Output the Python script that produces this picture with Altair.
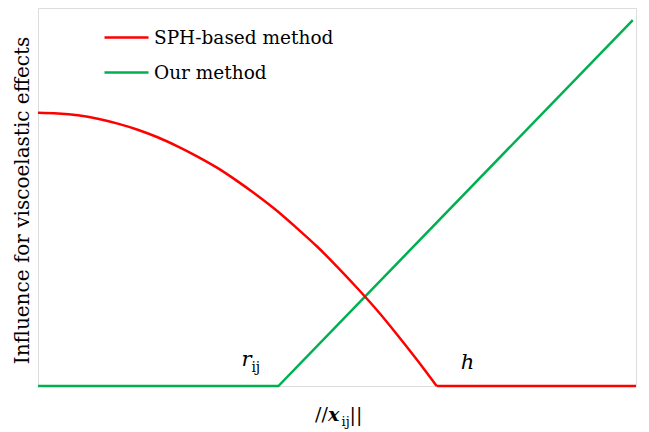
import altair as alt
import pandas as pd

# ---- data ----
sph_x = [0.0, 0.05, 0.1, 0.15, 0.2, 0.25, 0.3, 0.35, 0.4, 0.45, 0.5, 0.55,
         0.6, 0.65, 0.7, 0.75, 0.8, 0.85, 0.9, 0.95, 1.0]
sph_y = [0.723, 0.721, 0.716, 0.707, 0.694, 0.678, 0.658, 0.634, 0.607, 0.577,
         0.542, 0.504, 0.463, 0.417, 0.369, 0.316, 0.260, 0.201, 0.137, 0.070,
         0.0]
sph_tail_x = [1.0, 1.5]
sph_tail_y = [0.0, 0.0]
our_x = [0.0, 0.603, 1.492]
our_y = [0.0, 0.0, 0.968]
series = ["SPH-based method", "Our method"]
colors = ["#FF0000", "#00B050"]

r_ij = 0.603
h_val = 1.0

F2 = "DejaVu Serif"

curve_df = pd.DataFrame({"d": sph_x, "v": sph_y, "s": series[0], "g": "a"})
rest_rows = []
for x, y in zip(sph_tail_x, sph_tail_y):
    rest_rows.append({"d": x, "v": y, "s": series[0], "g": "b"})
for x, y in zip(our_x, our_y):
    rest_rows.append({"d": x, "v": y, "s": series[1], "g": "c"})
rest_df = pd.DataFrame(rest_rows)

xs = alt.Scale(domain=[0, 1.5], nice=False, zero=False)
ys = alt.Scale(domain=[0, 1], nice=False, zero=False)
cs = alt.Scale(domain=series, range=colors)

x_enc = alt.X("d:Q", scale=xs, axis=alt.Axis(title=None, labels=False, ticks=False, domain=False, grid=False))
y_enc = alt.Y("v:Q", scale=ys, axis=alt.Axis(
    title="Influence for viscoelastic effects", labels=False, ticks=False,
    domain=False, grid=False, titleFont=F2, titleFontSize=20,
    titleFontWeight="normal", titleColor="black", titleAngle=-90,
    titleAlign="center", titleBaseline="middle", titleX=-16, titleY=192))
legend = alt.Legend(title=None, orient="none", legendX=65, legendY=6,
                    symbolType="stroke", symbolSize=1936,
                    symbolStrokeWidth=2.5, labelFont=F2,
                    labelFontSize=18.5, labelColor="black", labelLimit=400,
                    labelOffset=4, rowPadding=2, padding=0)

rest = alt.Chart(rest_df).mark_line(strokeWidth=2.5, clip=False).encode(
    x=x_enc, y=y_enc,
    color=alt.Color("s:N", scale=cs, legend=legend),
    detail="g:N",
)
curve = alt.Chart(curve_df).mark_line(strokeWidth=2.5, clip=False, interpolate="monotone").encode(
    x=alt.X("d:Q", scale=xs), y=alt.Y("v:Q", scale=ys),
    color=alt.Color("s:N", scale=cs, legend=legend),
    detail="g:N",
)

ann_r = pd.DataFrame({"d": [r_ij], "v": [0], "t": ["r"]})
ann_ij = pd.DataFrame({"d": [r_ij], "v": [0], "t": ["ij"]})
ann_h = pd.DataFrame({"d": [h_val], "v": [0], "t": ["h"]})
r_txt = alt.Chart(ann_r).mark_text(
    font=F2, fontSize=21, fontStyle="italic", align="left", baseline="alphabetic",
    dx=-37, dy=-20, color="black").encode(x=alt.X("d:Q", scale=xs), y=alt.Y("v:Q", scale=ys), text="t:N")
ij_txt = alt.Chart(ann_ij).mark_text(
    font=F2, fontSize=14, align="left", baseline="alphabetic",
    dx=-27, dy=-14, color="black").encode(x=alt.X("d:Q", scale=xs), y=alt.Y("v:Q", scale=ys), text="t:N")
h_txt = alt.Chart(ann_h).mark_text(
    font=F2, fontSize=21, fontStyle="italic", align="left", baseline="alphabetic",
    dx=24, dy=-17, color="black").encode(x=alt.X("d:Q", scale=xs), y=alt.Y("v:Q", scale=ys), text="t:N")

# x-axis title "//x_ij||" built from pieces
t1 = alt.Chart(pd.DataFrame({"t": ["//"]})).mark_text(
    font=F2, fontSize=19, align="left", baseline="alphabetic",
    color="black").encode(x=alt.value(277), y=alt.value(413), text="t:N")
t2 = alt.Chart(pd.DataFrame({"t": ["x"]})).mark_text(
    font=F2, fontSize=19, fontStyle="italic", fontWeight="bold", align="left",
    baseline="alphabetic", color="black").encode(x=alt.value(290), y=alt.value(413), text="t:N")
t3 = alt.Chart(pd.DataFrame({"t": ["ij"]})).mark_text(
    font=F2, fontSize=13, align="left", baseline="alphabetic",
    color="black").encode(x=alt.value(303.5), y=alt.value(418), text="t:N")
t4 = alt.Chart(pd.DataFrame({"t": ["||"]})).mark_text(
    font=F2, fontSize=19, align="left", baseline="alphabetic",
    color="black").encode(x=alt.value(311.5), y=alt.value(413), text="t:N")

chart = alt.layer(rest, curve, r_txt, ij_txt, h_txt, t1, t2, t3, t4).properties(
    width=598, height=378,
    autosize=alt.AutoSizeParams(type="none"),
    padding={"left": 30, "top": 0, "right": 4, "bottom": 44},
).configure_view(stroke="#7F7F7F", strokeWidth=1).configure(background="white")

chart.save("out.html", embed_options={"renderer": "svg", "actions": False})
